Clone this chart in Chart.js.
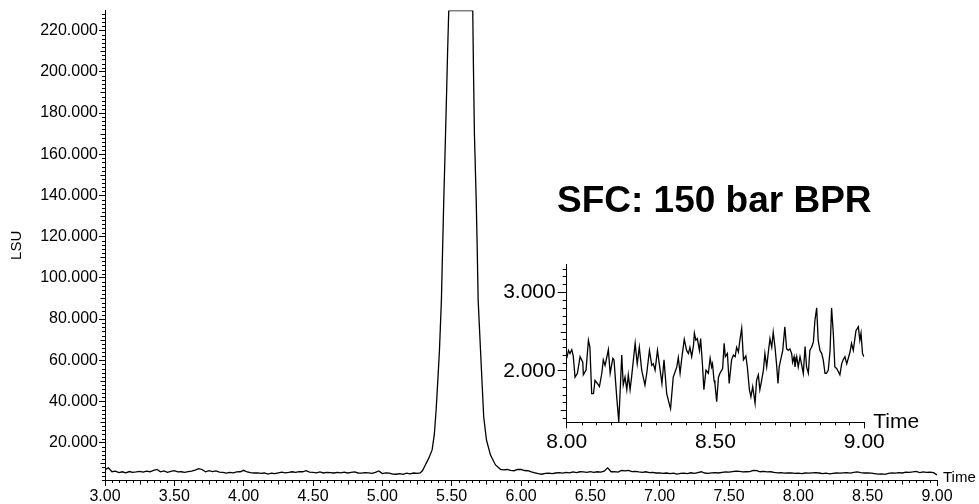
<!DOCTYPE html>
<html>
<head>
<meta charset="utf-8">
<script src="https://cdn.jsdelivr.net/npm/chart.js@4.4.1/dist/chart.umd.min.js"></script>
<style>
  html, body { margin: 0; padding: 0; background: #fff; }
  #wrap { position: relative; width: 979px; height: 504px; }
  #mainChart { position: absolute; left: 0; top: 0; }
  #insetChart { position: absolute; left: 470px; top: 250px; }
</style>
</head>
<body>
<div id="wrap">
  <canvas id="mainChart" width="979" height="504"></canvas>
  <canvas id="insetChart" width="480" height="215"></canvas>
</div>
<script>
// full run, 3.00 - 9.00 min
var mainTime = [
  3.000, 3.025, 3.050, 3.075, 3.100, 3.125, 3.150, 3.175, 3.200, 3.225,
  3.250, 3.275, 3.300, 3.325, 3.350, 3.375, 3.400, 3.425, 3.450, 3.475,
  3.500, 3.525, 3.550, 3.575, 3.600, 3.625, 3.650, 3.675, 3.700, 3.725,
  3.750, 3.775, 3.800, 3.825, 3.850, 3.875, 3.900, 3.925, 3.950, 3.975,
  4.000, 4.025, 4.050, 4.075, 4.100, 4.125, 4.150, 4.175, 4.200, 4.225,
  4.250, 4.275, 4.300, 4.325, 4.350, 4.375, 4.400, 4.425, 4.450, 4.475,
  4.500, 4.525, 4.550, 4.575, 4.600, 4.625, 4.650, 4.675, 4.700, 4.725,
  4.750, 4.775, 4.800, 4.825, 4.850, 4.875, 4.900, 4.925, 4.950, 4.975,
  5.000, 5.025, 5.050, 5.075, 5.100, 5.125, 5.150, 5.175, 5.200, 5.225,
  5.250,
  // peak
  5.274, 5.290, 5.310, 5.335, 5.359, 5.375, 5.388, 5.400, 5.412, 5.426,
  5.435, 5.443, 5.452, 5.462, 5.470, 5.479, 5.652, 5.657, 5.664, 5.677,
  5.684, 5.691, 5.708, 5.720, 5.731, 5.751, 5.780, 5.816, 5.852, 5.875,
  5.900, 5.925, 5.950, 5.975, 6.000, 6.025, 6.050, 6.075, 6.100, 6.125,
  6.150, 6.175, 6.200, 6.225, 6.250, 6.275, 6.300, 6.325, 6.350, 6.375,
  6.400, 6.425, 6.450, 6.475, 6.500, 6.525, 6.550, 6.575, 6.600, 6.625,
  6.650, 6.675, 6.700, 6.725, 6.750, 6.775, 6.800, 6.825, 6.850, 6.875,
  6.900, 6.925, 6.950, 6.975, 7.000, 7.025, 7.050, 7.075, 7.100, 7.125,
  7.150, 7.175, 7.200, 7.225, 7.250, 7.275, 7.300, 7.325, 7.350, 7.375,
  7.400, 7.425, 7.450, 7.475, 7.500, 7.525, 7.550, 7.575, 7.600, 7.625,
  7.650, 7.675, 7.700, 7.725, 7.750, 7.775, 7.800, 7.825, 7.850, 7.875,
  7.900, 7.925, 7.950, 7.975, 8.000, 8.025, 8.050, 8.075, 8.100, 8.125,
  8.150, 8.175, 8.200, 8.225, 8.250, 8.275, 8.300, 8.325, 8.350, 8.375,
  8.400, 8.425, 8.450, 8.475, 8.500, 8.525, 8.550, 8.575, 8.600, 8.625,
  8.650, 8.675, 8.700, 8.725, 8.750, 8.775, 8.800, 8.825, 8.850, 8.875,
  8.900, 8.925, 8.950, 8.975, 9.000
];
var mainLsu = [
  6.9, 7.8, 5.9, 6.2, 5.5, 5.9, 5.4, 6.0, 5.6, 5.8,
  6.1, 5.7, 6.2, 5.9, 6.6, 7.0, 5.9, 6.3, 5.6, 6.1,
  6.4, 5.8, 5.9, 5.6, 6.0, 6.2, 6.7, 7.4, 7.0, 5.9,
  6.4, 6.0, 6.3, 5.7, 5.6, 5.2, 5.6, 5.4, 5.8, 5.9,
  6.6, 5.8, 5.5, 5.3, 5.4, 5.1, 5.3, 4.8, 5.2, 5.0,
  5.4, 5.7, 5.4, 5.6, 5.9, 5.6, 6.0, 5.9, 6.4, 5.7,
  5.6, 5.4, 5.8, 5.3, 5.6, 5.5, 5.3, 5.6, 5.4, 5.7,
  5.3, 5.6, 5.8, 5.3, 5.2, 5.5, 5.4, 5.1, 5.6, 6.3,
  5.0, 5.4, 5.2, 4.8, 4.7, 5.0, 4.6, 5.2, 4.9, 5.3,
  5.1,
  5.3, 6.5, 9.2, 12.5, 16.5, 24.0, 35.9, 50.0, 64.9, 89.2,
  115.0, 137.6, 160.0, 186.1, 208.0, 229.7, 229.7, 202.3, 170.1, 137.6,
  115.0, 89.2, 64.9, 48.0, 32.6, 21.3, 14.0, 9.2, 7.1, 6.8,
  7.0, 6.6, 6.4, 7.0, 7.1, 6.5, 6.4, 5.8, 5.4, 5.0,
  4.7, 5.1, 5.2, 5.0, 5.3, 5.5, 5.2, 5.6, 5.4, 5.8,
  5.5, 5.9, 5.8, 5.6, 6.0, 5.6, 5.9, 5.7, 6.2, 7.8,
  5.9, 6.0, 5.7, 6.5, 6.3, 6.6, 6.0, 6.1, 5.8, 5.6,
  5.9, 5.5, 5.6, 5.3, 5.4, 5.1, 5.3, 5.0, 5.2, 4.8,
  5.1, 5.2, 5.0, 5.4, 5.1, 5.5, 5.9, 5.3, 5.1, 5.4,
  5.5, 5.3, 5.6, 5.8, 5.7, 6.0, 6.2, 6.1, 5.8, 5.9,
  6.0, 6.6, 6.4, 5.9, 6.1, 5.8, 5.9, 5.6, 5.4, 5.5,
  5.2, 5.3, 5.4, 5.1, 5.2, 5.0, 5.3, 5.2, 5.4, 5.5,
  5.3, 5.0, 5.2, 4.9, 5.1, 5.3, 5.2, 5.4, 5.5, 5.2,
  5.6, 5.8, 5.5, 5.3, 5.4, 5.2, 5.0, 4.8, 4.9, 4.6,
  5.1, 5.4, 5.2, 5.5, 5.3, 5.7, 5.6, 5.8, 6.1, 5.5,
  5.8, 5.6, 5.7, 5.5, 4.4
];

// baseline close-up, 8.00 - 9.00 min
var insetTime = [
  8.000, 8.006, 8.011, 8.017, 8.022, 8.028, 8.036, 8.045, 8.054, 8.056,
  8.065, 8.073, 8.078, 8.084, 8.090, 8.095, 8.103, 8.110, 8.118, 8.123,
  8.129, 8.140, 8.146, 8.155, 8.159, 8.168, 8.175, 8.185, 8.190, 8.196,
  8.202, 8.207, 8.213, 8.218, 8.230, 8.237, 8.244, 8.252, 8.263, 8.269,
  8.278, 8.286, 8.291, 8.297, 8.305, 8.314, 8.320, 8.327, 8.336, 8.344,
  8.349, 8.358, 8.370, 8.375, 8.381, 8.386, 8.395, 8.403, 8.409, 8.414,
  8.420, 8.426, 8.429, 8.434, 8.439, 8.446, 8.450, 8.456, 8.461, 8.468,
  8.476, 8.482, 8.487, 8.490, 8.495, 8.498, 8.504, 8.510, 8.515, 8.521,
  8.524, 8.529, 8.533, 8.540, 8.546, 8.554, 8.560, 8.566, 8.571, 8.577,
  8.582, 8.588, 8.594, 8.602, 8.607, 8.614, 8.619, 8.625, 8.633, 8.638,
  8.644, 8.649, 8.655, 8.661, 8.666, 8.672, 8.677, 8.683, 8.689, 8.694,
  8.700, 8.705, 8.710, 8.714, 8.719, 8.726, 8.733, 8.739, 8.745, 8.750,
  8.756, 8.759, 8.764, 8.767, 8.773, 8.778, 8.784, 8.789, 8.795, 8.801,
  8.806, 8.812, 8.817, 8.823, 8.829, 8.834, 8.840, 8.845, 8.851, 8.857,
  8.862, 8.868, 8.873, 8.879, 8.885, 8.890, 8.896, 8.901, 8.907, 8.913,
  8.918, 8.924, 8.929, 8.935, 8.941, 8.952, 8.957, 8.963, 8.972, 8.980,
  8.985, 8.989, 8.994, 8.999
];
var insetLsu = [
  2.16, 2.26, 2.22, 2.27, 2.19, 1.92, 1.97, 2.18, 2.11, 1.95,
  2.01, 2.39, 2.30, 1.71, 1.71, 1.88, 1.84, 1.80, 1.97, 2.14,
  2.07, 2.27, 1.97, 2.16, 2.14, 1.67, 1.35, 2.20, 1.82, 1.92,
  1.76, 1.95, 1.76, 1.92, 2.35, 2.09, 2.30, 2.01, 1.82, 1.97,
  2.26, 2.07, 2.09, 2.01, 2.26, 2.01, 1.84, 2.14, 1.71, 1.59,
  1.52, 1.92, 2.05, 2.17, 1.97, 2.14, 2.40, 2.26, 2.22, 2.30,
  2.18, 2.32, 2.48, 2.39, 2.41, 2.26, 2.41, 2.09, 1.76, 2.01,
  1.97, 2.16, 2.05, 2.09, 1.88, 1.84, 1.61, 1.92, 1.97, 2.01,
  2.03, 2.35, 2.18, 2.22, 1.84, 2.14, 2.20, 2.18, 2.30, 2.24,
  2.39, 2.54, 2.14, 2.19, 2.05, 1.76, 1.67, 1.80, 1.59, 1.88,
  1.95, 1.76, 1.88, 2.01, 2.22, 2.05, 2.22, 2.41, 2.30, 2.49,
  2.30, 2.09, 1.84, 2.05, 2.14, 2.26, 2.56, 2.28, 2.26, 2.28,
  2.22, 2.11, 2.18, 2.05, 2.18, 2.05, 2.18, 2.09, 1.97, 2.31,
  2.05, 1.97, 2.26, 2.30, 2.37, 2.64, 2.80, 2.39, 2.26, 2.22,
  2.14, 1.97, 1.97, 2.01, 2.26, 2.80, 2.47, 2.05, 2.03, 1.99,
  1.95, 2.09, 2.14, 2.18, 2.09, 2.24, 2.35, 2.26, 2.51, 2.56,
  2.39, 2.48, 2.22, 2.18
];

var mainXTicks = [3.0, 3.5, 4.0, 4.5, 5.0, 5.5, 6.0, 6.5, 7.0, 7.5, 8.0, 8.5, 9.0];
var mainYTicks = [20, 40, 60, 80, 100, 120, 140, 160, 180, 200, 220];
var insetXTicks = [8.0, 8.5, 9.0];
var insetYTicks = [2, 3];

var FONT = '"Liberation Sans", Arial, Helvetica, sans-serif';
Chart.defaults.font.family = FONT;
Chart.defaults.color = '#000';

function points(xs, ys) {
  return xs.map(function (x, i) { return { x: x, y: ys[i] }; });
}

// small ticks between the labelled ones
var minorTicks = {
  id: 'minorTicks',
  afterDraw: function (chart, args, opts) {
    var ctx = chart.ctx;
    ctx.save();
    ctx.strokeStyle = '#000';
    ctx.lineWidth = 1;
    (opts.axes || []).forEach(function (a) {
      var scale = chart.scales[a.id];
      var n = Math.round((a.to - a.from) / a.step);
      ctx.beginPath();
      for (var i = 0; i <= n; i++) {
        var v = a.from + i * a.step;
        var len = (a.mid && Math.abs(v / a.mid - Math.round(v / a.mid)) < 1e-6) ? a.midLen : a.len;
        if (a.major && Math.abs(v / a.major - Math.round(v / a.major)) < 1e-6) continue;
        var p = Math.round(scale.getPixelForValue(v)) + 0.5;
        if (scale.isHorizontal()) {
          ctx.moveTo(p, scale.top);
          ctx.lineTo(p, scale.top + len);
        } else {
          ctx.moveTo(scale.right, p);
          ctx.lineTo(scale.right - len, p);
        }
      }
      ctx.stroke();
    });
    ctx.restore();
  }
};

// free text: axis names and the caption
var freeText = {
  id: 'freeText',
  afterDraw: function (chart, args, opts) {
    var ctx = chart.ctx;
    var area = chart.chartArea;
    (opts.items || []).forEach(function (t) {
      var pos = t.at(area);
      ctx.save();
      ctx.fillStyle = '#000';
      ctx.font = t.font;
      ctx.textAlign = t.align || 'left';
      ctx.textBaseline = t.baseline || 'middle';
      ctx.translate(pos[0], pos[1]);
      if (t.rotate) ctx.rotate(t.rotate);
      ctx.fillText(t.text, 0, 0);
      ctx.restore();
    });
  }
};

function axisStyle(tickLen) {
  return {
    grid: { display: true, drawOnChartArea: false, drawTicks: true, tickLength: tickLen, color: '#000', lineWidth: 1 },
    border: { display: true, color: '#000', width: 1 }
  };
}

var mx = axisStyle(6), my = axisStyle(6);
new Chart(document.getElementById('mainChart'), {
  type: 'line',
  data: {
    datasets: [{
      data: points(mainTime, mainLsu),
      borderColor: '#000',
      borderWidth: 1.3,
      pointRadius: 0,
      tension: 0,
      fill: false
    }]
  },
  options: {
    responsive: false,
    animation: false,
    layout: { padding: { left: 0, top: 10, right: 42, bottom: 0 } },
    scales: {
      x: {
        type: 'linear', min: 3, max: 9,
        grid: mx.grid, border: mx.border,
        afterBuildTicks: function (s) { s.ticks = mainXTicks.map(function (v) { return { value: v }; }); },
        afterFit: function (s) { s.height = 24; },
        ticks: {
          autoSkip: false, maxRotation: 0, padding: 1,
          font: { size: 16 },
          callback: function (v) { return Number(v).toFixed(2); }
        }
      },
      y: {
        type: 'linear', min: 1.9, max: 229.7,
        grid: my.grid, border: my.border,
        afterBuildTicks: function (s) { s.ticks = mainYTicks.map(function (v) { return { value: v }; }); },
        afterFit: function (s) { s.width = 105; },
        ticks: {
          autoSkip: false, padding: 1,
          font: { size: 16 },
          callback: function (v) { return Number(v).toFixed(3); }
        }
      }
    },
    plugins: {
      legend: { display: false },
      tooltip: { enabled: false },
      minorTicks: {
        axes: [
          { id: 'x', from: 3, to: 9, step: 0.05, len: 3, mid: 0.25, midLen: 4.5, major: 0.5 },
          { id: 'y', from: 2, to: 228, step: 2, len: 3, mid: 10, midLen: 4.5, major: 20 }
        ]
      },
      freeText: {
        items: [
          { text: 'LSU', font: '15px ' + FONT, align: 'center',
            rotate: -Math.PI / 2, at: function (a) { return [17, (a.top + a.bottom) / 2]; } },
          { text: 'Time', font: '15px ' + FONT,
            at: function (a) { return [a.right + 6, a.bottom - 2]; } },
          { text: 'SFC: 150 bar BPR', font: 'bold 37px ' + FONT,
            baseline: 'alphabetic', at: function (a) { return [557, 212]; } }
        ]
      }
    }
  },
  plugins: [minorTicks, freeText]
});

var ix = axisStyle(6), iy = axisStyle(9);
new Chart(document.getElementById('insetChart'), {
  type: 'line',
  data: {
    datasets: [{
      data: points(insetTime, insetLsu),
      borderColor: '#000',
      borderWidth: 1.3,
      pointRadius: 0,
      tension: 0,
      fill: false
    }]
  },
  options: {
    responsive: false,
    animation: false,
    layout: { padding: { left: 0, top: 14, right: 85.7, bottom: 0 } },
    scales: {
      x: {
        type: 'linear', min: 8, max: 9,
        grid: ix.grid, border: ix.border,
        afterBuildTicks: function (s) { s.ticks = insetXTicks.map(function (v) { return { value: v }; }); },
        afterFit: function (s) { s.height = 42.7; },
        ticks: {
          autoSkip: false, maxRotation: 0, padding: 1,
          font: { size: 21 },
          callback: function (v) { return Number(v).toFixed(2); }
        }
      },
      y: {
        type: 'linear', min: 1.347, max: 3.35,
        grid: iy.grid, border: iy.border,
        afterBuildTicks: function (s) { s.ticks = insetYTicks.map(function (v) { return { value: v }; }); },
        afterFit: function (s) { s.width = 96.7; },
        ticks: {
          autoSkip: false, padding: 2,
          font: { size: 21 },
          callback: function (v) { return Number(v).toFixed(3); }
        }
      }
    },
    plugins: {
      legend: { display: false },
      tooltip: { enabled: false },
      minorTicks: {
        axes: [
          { id: 'x', from: 8, to: 9, step: 0.05, len: 3, mid: 0.25, midLen: 4.5, major: 0.5 },
          { id: 'y', from: 1.4, to: 3.3, step: 0.1, len: 4, mid: 0.5, midLen: 6, major: 1 }
        ]
      },
      freeText: {
        items: [
          { text: 'Time', font: '21px ' + FONT,
            at: function (a) { return [a.right + 9, a.bottom]; } }
        ]
      }
    }
  },
  plugins: [minorTicks, freeText]
});
</script>
</body>
</html>
